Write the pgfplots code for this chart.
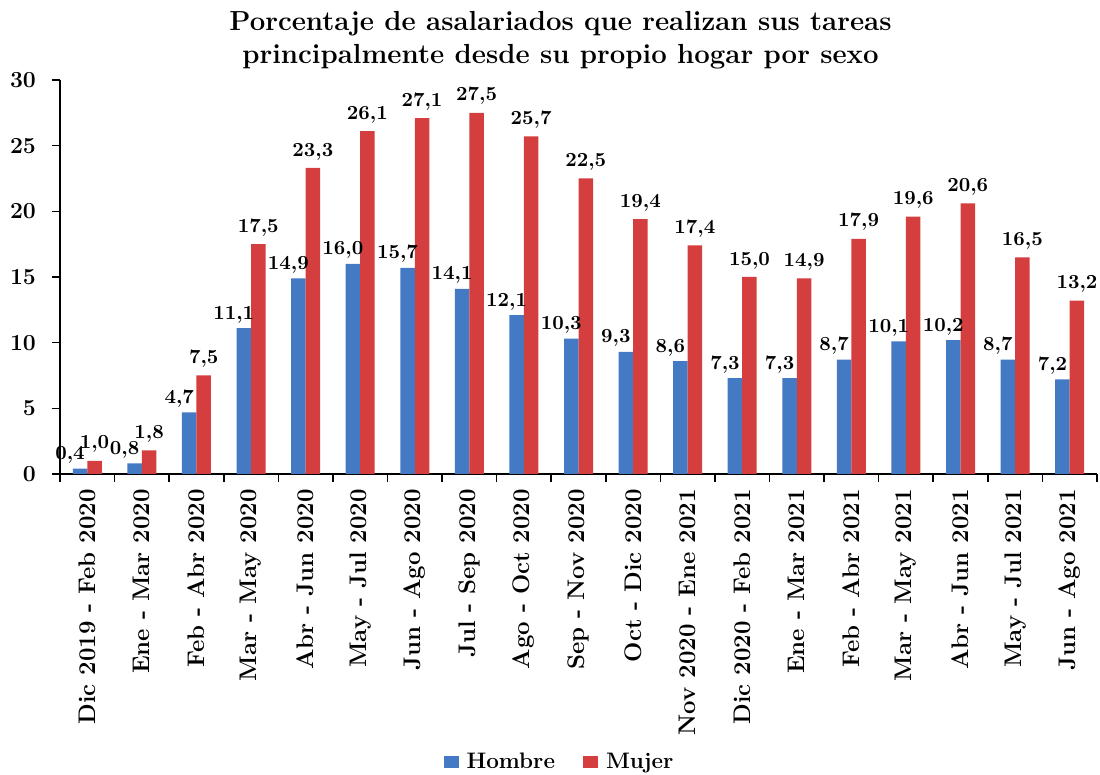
\documentclass[border=0pt]{standalone}
\usepackage{pgfplots}
\pgfplotsset{compat=1.18}
\definecolor{hblue}{RGB}{68,122,196}
\definecolor{mred}{RGB}{212,62,62}
\begin{document}
\begin{tikzpicture}
\begin{axis}[
  scale only axis, width=518.5pt, height=197pt,
  xmin=-0.5, xmax=18.5, ymin=0, ymax=30,
  ybar=0pt, bar width=7.25pt,
  axis x line*=bottom, axis y line*=left,
  axis line style={line width=0.8pt, black},
  tick align=outside,
  tick style={black, line width=0.8pt},
  xtick={0,...,18},
  xticklabels={Dic 2019 - Feb 2020, Ene - Mar 2020, Feb - Abr 2020, Mar - May 2020, Abr - Jun 2020, May - Jul 2020, Jun - Ago 2020, Jul - Sep 2020, Ago - Oct 2020, Sep - Nov 2020, Oct - Dic 2020, Nov 2020 - Ene 2021, Dic 2020 - Feb 2021, Ene - Mar 2021, Feb - Abr 2021, Mar - May 2021, Abr - Jun 2021, May - Jul 2021, Jun - Ago 2021},
  major x tick style={draw=none},
  minor xtick={-0.5,0.5,...,18.5},
  minor tick length=4pt,
  major tick length=4pt,
  ytick={0,5,...,30},
  yticklabels={0,5,10,15,20,25,30},
  x tick label style={rotate=90, anchor=east, font=\bfseries\fontsize{12}{14}\selectfont},
  y tick label style={font=\bfseries\fontsize{11.5}{13}\selectfont, xshift=-4.5pt},
  title={Porcentaje de asalariados que realizan sus tareas\\principalmente desde su propio hogar por sexo},
  title style={align=center, font=\bfseries\fontsize{13.8}{16.5}\selectfont, at={(0.5,1)}, anchor=south, yshift=-4pt, xshift=-9pt},
  legend style={at={(0.5,0)}, anchor=center, yshift=-144pt, xshift=-9pt, draw=none, legend columns=2,
    font=\bfseries\fontsize{11.2}{13}\selectfont,
    /tikz/every odd column/.append style={column sep=2pt},
    /tikz/every even column/.append style={column sep=12pt}},
  legend image code/.code={\fill[#1] (0pt,-3pt) rectangle (7.5pt,3pt);},
  every node near coord/.append style={font=\bfseries\fontsize{10}{12}\selectfont, text=black},
]
\addplot[fill=hblue, draw=none,
  nodes near coords={\pgfmathprintnumber[fixed,fixed zerofill,precision=1,use comma,assume math mode=true]{\pgfplotspointmeta}},
  every node near coord/.append style={xshift=-5pt, yshift=-1pt}]
  coordinates {(0,0.4) (1,0.8) (2,4.7) (3,11.1) (4,14.9) (5,16.0) (6,15.7) (7,14.1) (8,12.1) (9,10.3) (10,9.3) (11,8.6) (12,7.3) (13,7.3) (14,8.7) (15,10.1) (16,10.2) (17,8.7) (18,7.2)};
\addplot[fill=mred, draw=none,
  nodes near coords={\pgfmathprintnumber[fixed,fixed zerofill,precision=1,use comma,assume math mode=true]{\pgfplotspointmeta}},
  every node near coord/.append style={yshift=0.5pt}]
  coordinates {(0,1.0) (1,1.8) (2,7.5) (3,17.5) (4,23.3) (5,26.1) (6,27.1) (7,27.5) (8,25.7) (9,22.5) (10,19.4) (11,17.4) (12,15.0) (13,14.9) (14,17.9) (15,19.6) (16,20.6) (17,16.5) (18,13.2)};
\legend{Hombre, Mujer}
\end{axis}
\pgfresetboundingbox
\path[use as bounding box] (-30pt,-150.5pt) rectangle (520pt,237pt);
\end{tikzpicture}
\end{document}
